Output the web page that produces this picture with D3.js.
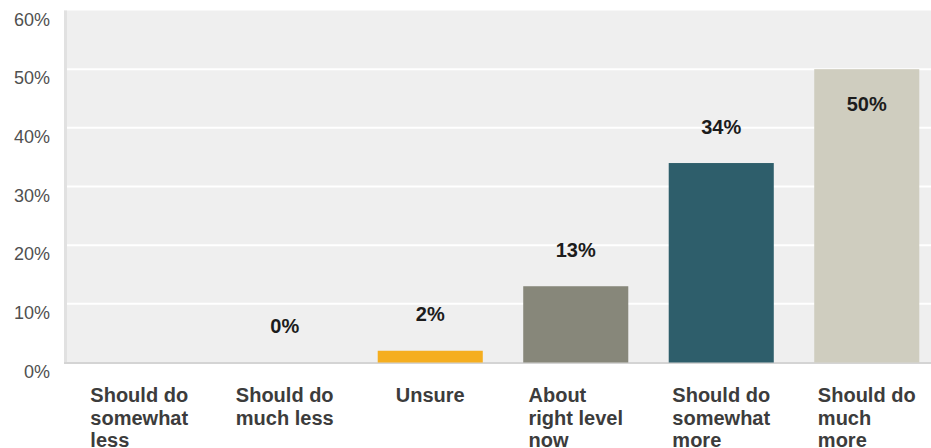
<!DOCTYPE html>
<html>
<head>
<meta charset="utf-8">
<script src="https://cdn.jsdelivr.net/npm/d3@7"></script>
<style>
  body { margin: 0; background: #fff; }
  svg { display: block; }
</style>
</head>
<body>
<div id="chart"></div>
<script>
const categories = [
    'Should do somewhat less',
    'Should do much less',
    'Unsure',
    'About right level now',
    'Should do somewhat more',
    'Should do much more'
];
// first category has no value shown in the original
const values = [null, 0, 2, 13, 34, 50];
const barColors = ['#b0b0a0', '#6f8f9a', '#f5ae1f', '#87877a', '#2e5e6b', '#cfcdbf'];
const yTicks = [0, 10, 20, 30, 40, 50, 60];

let width = 931, height = 448;

let svg = d3.select('#chart').append('svg')
    .attr('width', width)
    .attr('height', height);

let x = d3.scaleBand()
    .domain(categories)
    .range([66.5, 939.5])
    .paddingInner(0.278)
    .paddingOuter(0.139);

let y = d3.scaleLinear()
    .domain([0, 60])
    .range([362.5, 10.5]);

// plot background
svg.append('rect')
    .attr('x', 64).attr('y', y(60))
    .attr('width', width - 64).attr('height', y(0) - y(60))
    .attr('fill', '#efefef');

// gridlines
svg.selectAll('line.grid')
    .data(yTicks.filter(t => t > 0 && t < 60))
    .enter().append('line').classed('grid', true)
    .attr('x1', 67).attr('x2', width)
    .attr('y1', d => y(d)).attr('y2', d => y(d))
    .attr('stroke', '#ffffff')
    .attr('stroke-width', 2);

// left axis strip and bottom axis line
svg.append('rect')
    .attr('x', 64).attr('y', y(60))
    .attr('width', 3).attr('height', y(0) - y(60))
    .attr('fill', '#e1e1e1');
svg.append('line')
    .attr('x1', 64).attr('x2', width)
    .attr('y1', y(0) + 0.5).attr('y2', y(0) + 0.5)
    .attr('stroke', '#d4d4d4')
    .attr('stroke-width', 2);

// y tick labels
svg.selectAll('text.ytick')
    .data(yTicks)
    .enter().append('text').classed('ytick', true)
    .attr('x', 50)
    .attr('y', d => y(d) + 15)
    .attr('text-anchor', 'end')
    .attr('font-family', 'Liberation Sans, Arial, sans-serif')
    .attr('font-size', 18)
    .attr('fill', '#505050')
    .text(d => d + '%');

// bars
svg.selectAll('rect.bar')
    .data(categories)
    .enter().append('rect').classed('bar', true)
    .attr('x', d => x(d))
    .attr('width', x.bandwidth())
    .attr('y', (d, i) => y(values[i] || 0))
    .attr('height', (d, i) => y(0) - y(values[i] || 0))
    .attr('fill', (d, i) => barColors[i]);

// value labels
let maxVal = d3.max(values);
svg.selectAll('text.val')
    .data(categories.filter((d, i) => values[i] !== null))
    .enter().append('text').classed('val', true)
    .attr('x', d => x(d) + x.bandwidth() / 2)
    .attr('y', d => {
        let v = values[categories.indexOf(d)];
        return v === maxVal ? y(v) + 42 : y(v) - 29.5;
    })
    .attr('text-anchor', 'middle')
    .attr('font-family', 'Liberation Sans, Arial, sans-serif')
    .attr('font-weight', 'bold')
    .attr('font-size', 20)
    .attr('fill', '#1c1c1c')
    .text(d => values[categories.indexOf(d)] + '%');

// category labels, wrapped to bar width, block centred under bar
categories.forEach(function(cat) {
    let g = svg.append('g');
    let t = g.append('text')
        .attr('font-family', 'Liberation Sans, Arial, sans-serif')
        .attr('font-weight', 'bold')
        .attr('font-size', 20)
        .attr('fill', '#3c3c3c');
    let words = cat.split(' ');
    let lines = [];
    let line = [];
    let probe = t.append('tspan');
    words.forEach(function(w) {
        line.push(w);
        probe.text(line.join(' '));
        if (probe.node().getComputedTextLength() > x.bandwidth() && line.length > 1) {
            line.pop();
            lines.push(line.join(' '));
            line = [w];
        }
    });
    lines.push(line.join(' '));
    probe.remove();

    let tspans = lines.map(function(l, i) {
        return t.append('tspan').attr('y', 402 + i * 22.5).text(l);
    });
    let maxW = d3.max(tspans, s => s.node().getComputedTextLength());
    let left = x(cat) + x.bandwidth() / 2 - maxW / 2;
    tspans.forEach(s => s.attr('x', left));
});
</script>
</body>
</html>
